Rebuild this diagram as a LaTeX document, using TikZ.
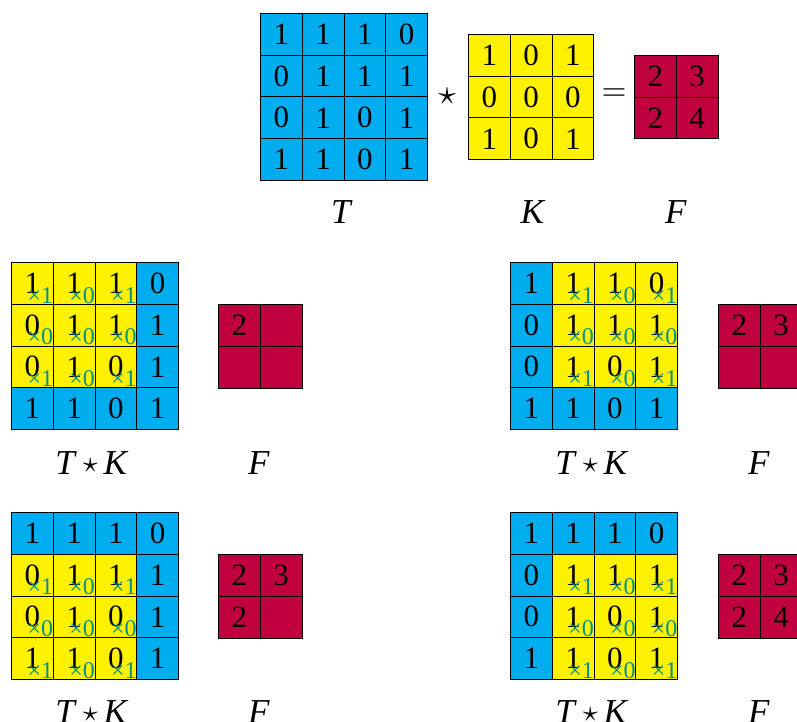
\documentclass[tikz,border=0pt]{standalone}
\usepackage{graphicx}
\usepackage{fontspec}
\setmainfont{Liberation Serif}
\definecolor{tblue}{RGB}{0,174,239}
\definecolor{kyel}{RGB}{255,242,0}
\definecolor{fred}{RGB}{193,0,63}
\definecolor{mteal}{RGB}{0,145,140}
\tikzset{
  cellbox/.style={draw=black, line width=0.8pt, minimum size=41.75pt, inner sep=0pt, anchor=north west},
  digit/.style={font=\fontsize{31}{36}\selectfont, inner sep=0pt},
  mult/.style={font=\fontsize{24}{26}\selectfont, text=mteal, inner sep=0pt},
  lbl/.style={font=\fontsize{35}{40}\selectfont, inner sep=0pt}
}
\newcommand{\smstar}{\raisebox{0.06em}{{\fontsize{10}{12}\selectfont\scalebox{3}{$\star$}}}}
\def\cs{41.75}
% \tgrid{prefix}{x}{y}{yellow col start}{yellow row start}{show yellow}
\newcommand{\tgrid}[6]{%
  \foreach \r/\row in {0/{1,1,1,0},1/{0,1,1,1},2/{0,1,0,1},3/{1,1,0,1}} {
    \foreach \v [count=\c from 0] in \row {
      \pgfmathtruncatemacro{\kr}{\r-#5}
      \pgfmathtruncatemacro{\kc}{\c-#4}
      \pgfmathtruncatemacro{\inside}{#6*(\kr>=0)*(\kr<=2)*(\kc>=0)*(\kc<=2)}
      \ifnum\inside=1
        \node[cellbox, fill=kyel] (#1-\r-\c) at ({#2+\c*\cs},{#3+\r*\cs}) {};
        \pgfmathtruncatemacro{\kv}{(mod(\kr,2)==0)*(mod(\kc,2)==0)}
        \node[digit] (#1d-\r-\c) at (#1-\r-\c.center) {\v};
        \node[mult] (#1m-\r-\c) at ([xshift=8pt,yshift=-12pt]#1-\r-\c.center) {×\kv};
      \else
        \node[cellbox, fill=tblue] (#1-\r-\c) at ({#2+\c*\cs},{#3+\r*\cs}) {};
        \node[digit] (#1d-\r-\c) at (#1-\r-\c.center) {\v};
      \fi
    }
  }
}
% \fgrid{prefix}{x}{y}{a}{b}{c}{d}
\newcommand{\fgrid}[7]{%
  \node[cellbox, fill=fred] (#1-0-0) at (#2,#3) {};
  \node[cellbox, fill=fred] (#1-0-1) at ({#2+\cs},#3) {};
  \node[cellbox, fill=fred] (#1-1-0) at (#2,{#3+\cs}) {};
  \node[cellbox, fill=fred] (#1-1-1) at ({#2+\cs},{#3+\cs}) {};
  \node[digit] at (#1-0-0.center) {#4};
  \node[digit] at (#1-0-1.center) {#5};
  \node[digit] at (#1-1-0.center) {#6};
  \node[digit] at (#1-1-1.center) {#7};
}
\begin{document}
\begin{tikzpicture}[x=1pt,y=-1pt]
\useasboundingbox (0,0) rectangle (797,722);
\clip (0,0) rectangle (797,722);
% top row
\tgrid{T}{260}{13}{0}{0}{0}
\foreach \r/\row in {0/{1,0,1},1/{0,0,0},2/{1,0,1}} {
  \foreach \v [count=\c from 0] in \row {
    \node[cellbox, fill=kyel] (K-\r-\c) at ({468+\c*\cs},{34+\r*\cs}) {};
    \node[digit] at (K-\r-\c.center) {\v};
  }
}
\fgrid{F}{634}{55}{2}{3}{2}{4}
\node[inner sep=0pt] (star) at (447,96) {\scalebox{3.5}{$\star$}};
\node[inner sep=0pt] (eq) at (614,95) {\scalebox{3.2}{$=$}};
\node[lbl] (lT) at (342,212) {\textit{T}};
\node[lbl] (lK) at (533,212) {\textit{K}};
\node[lbl] (lF) at (676,212) {\textit{F}};
% panel 1
\tgrid{A}{11}{262}{0}{0}{1}
\fgrid{FA}{218}{304}{2}{}{}{}
\node[lbl] (lA) at (92,463) {\textit{T}\,\smstar\,\textit{K}};
\node[lbl] (lFA) at (259,463) {\textit{F}};
% panel 2
\tgrid{B}{510}{262}{1}{0}{1}
\fgrid{FB}{718}{304}{2}{3}{}{}
\node[lbl] (lB) at (592,463) {\textit{T}\,\smstar\,\textit{K}};
\node[lbl] (lFB) at (759,463) {\textit{F}};
% panel 3
\tgrid{C}{11}{512}{0}{1}{1}
\fgrid{FC}{218}{554}{2}{3}{2}{}
\node[lbl] (lC) at (92,712) {\textit{T}\,\smstar\,\textit{K}};
\node[lbl] (lFC) at (259,712) {\textit{F}};
% panel 4
\tgrid{D}{510}{512}{1}{1}{1}
\fgrid{FD}{718}{554}{2}{3}{2}{4}
\node[lbl] (lD) at (592,712) {\textit{T}\,\smstar\,\textit{K}};
\node[lbl] (lFD) at (759,712) {\textit{F}};
\end{tikzpicture}
\end{document}
